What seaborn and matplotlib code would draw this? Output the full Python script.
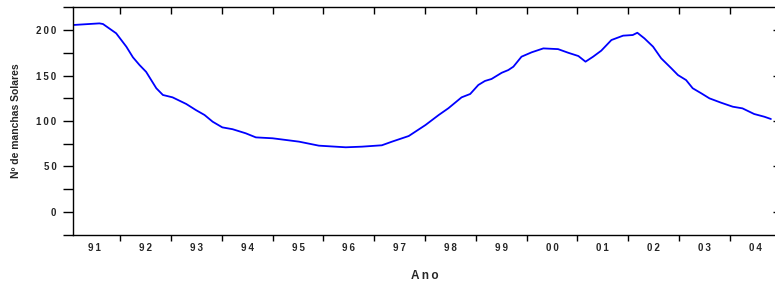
import matplotlib
matplotlib.use("Agg")
import matplotlib.pyplot as plt
import seaborn as sns
import numpy as np
import pandas as pd

# valores (ano decimal, numero medio de manchas solares)
anos = [1991.07, 1991.59, 1991.66, 1991.92, 1992.12, 1992.25, 1992.38, 1992.51,
        1992.61, 1992.71, 1992.84, 1993.03, 1993.30, 1993.49, 1993.66, 1993.82,
        1994.01, 1994.21, 1994.47, 1994.67, 1995.00, 1995.52, 1995.91, 1996.44,
        1996.76, 1997.15, 1997.35, 1997.68, 1998.01, 1998.27, 1998.46, 1998.72,
        1998.89, 1999.05, 1999.18, 1999.31, 1999.51, 1999.64, 1999.74, 1999.90,
        2000.10, 2000.33, 2000.62, 2000.82, 2001.02, 2001.16, 2001.31, 2001.47,
        2001.67, 2001.90, 2002.09, 2002.18, 2002.32, 2002.49, 2002.65, 2002.85,
        2002.98, 2003.14, 2003.27, 2003.44, 2003.60, 2003.83, 2004.06, 2004.25,
        2004.48, 2004.68, 2004.81]
manchas = [205.5, 207.3, 206.6, 196.4, 181.7, 170.0, 161.5, 154.0,
           145.0, 136.0, 128.6, 126.0, 118.7, 112.0, 106.6, 99.2,
           93.0, 91.0, 86.5, 82.0, 81.0, 77.3, 72.9, 71.1,
           71.8, 73.3, 77.3, 83.5, 95.6, 106.6, 114.0, 126.0,
           129.7, 139.6, 144.0, 146.2, 153.0, 156.0, 159.7, 170.7,
           175.5, 179.8, 179.0, 175.0, 171.4, 165.2, 170.7, 177.3,
           189.0, 193.8, 194.5, 197.0, 190.8, 181.7, 168.9, 157.9,
           150.5, 145.0, 136.0, 130.4, 124.9, 120.1, 115.7, 113.9,
           107.7, 104.7, 102.2]
rotulos_ano = ["91", "92", "93", "94", "95", "96", "97", "98", "99",
               "00", "01", "02", "03", "04"]
ticks_y = [0, 50, 100, 150, 200]

df = pd.DataFrame({"ano": anos, "manchas": manchas})

sns.set_style("ticks")
plt.rcParams["font.family"] = ["Liberation Sans", "DejaVu Sans"]


def espacar(s):
    return "\u2009".join(s)


fig = plt.figure(figsize=(7.75, 2.85), dpi=100)
ax = fig.add_axes([73 / 775, 50 / 285, 704 / 775, 228 / 285])

sns.lineplot(data=df, x="ano", y="manchas", color="#0000ff", linewidth=1.3, ax=ax)

ax.set_xlim(1991.07, 2004.93)
ax.set_ylim(-25.3, 225.3)

for s in ["top", "right", "left", "bottom"]:
    ax.spines[s].set_visible(True)
    ax.spines[s].set_color("black")
    ax.spines[s].set_linewidth(1.0)

# eixo x: marcas nos limites dos anos, rotulos no meio
ax.set_xticks(np.arange(1992, 2005))
ax.set_xticklabels([])
ax.set_xticks(np.arange(1991.5, 2005.0, 1.0), minor=True)
ax.set_xticklabels([espacar(r) for r in rotulos_ano], minor=True,
                   fontsize=7, fontweight="bold")
ax.tick_params(axis="x", which="major", direction="out", length=4, width=1,
               top=False, bottom=True, color="black")
ax.tick_params(axis="x", which="minor", length=0, pad=6)

# marcas internas no topo
topo = ax.secondary_xaxis("top")
topo.set_xticks(np.arange(1992, 2005))
topo.set_xticklabels([])
topo.tick_params(axis="x", direction="in", length=5, width=1, color="black")
topo.spines["top"].set_visible(False)

# eixo y
ax.set_yticks(ticks_y)
ax.set_yticklabels([espacar(str(v)) for v in ticks_y], fontsize=7,
                   fontweight="bold")
ax.set_yticks(np.arange(-25, 226, 50), minor=True)
ax.tick_params(axis="y", which="both", direction="out", length=7, width=1,
               left=True, right=False, color="black", pad=5)

# marcas internas a direita
direita = ax.secondary_yaxis("right")
direita.set_yticks(ticks_y)
direita.set_yticklabels([])
direita.tick_params(axis="y", direction="in", length=3, width=1, color="black")
direita.spines["right"].set_visible(False)

ax.set_xlabel(espacar("Ano"), fontsize=8.5, fontweight="bold", labelpad=12)
ax.set_ylabel("Nº de manchas Solares", fontsize=7.5, fontweight="bold",
              labelpad=11)

plt.savefig("out.png", dpi=100)
